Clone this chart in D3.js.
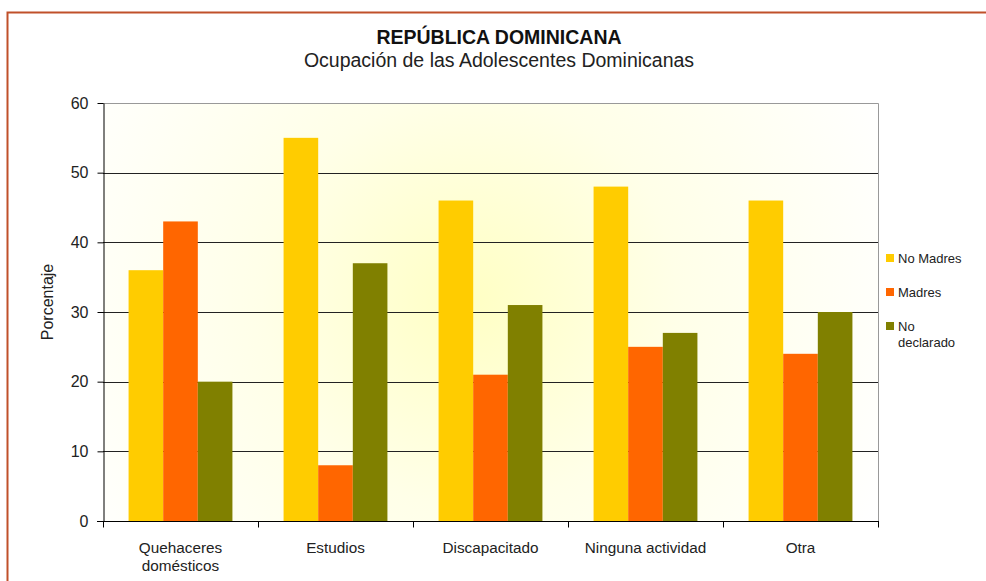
<!DOCTYPE html>
<html>
<head>
<meta charset="utf-8">
<script src="https://cdn.jsdelivr.net/npm/d3@7"></script>
<style>
  html, body { margin: 0; padding: 0; background: #fff; }
  svg { display: block; font-family: "Liberation Sans", Arial, sans-serif; }
</style>
</head>
<body>
<svg id="chart" width="986" height="581"></svg>
<script>
// Ocupación de las adolescentes, por condición de maternidad (%)
const categories = [["Quehaceres", "domésticos"], ["Estudios"], ["Discapacitado"], ["Ninguna actividad"], ["Otra"]];
const seriesNames = [["No Madres"], ["Madres"], ["No", "declarado"]];
const noMadres   = [36, 55, 46, 48, 46];
const madres     = [43, 8, 21, 25, 24];
const noDeclarado = [20, 37, 31, 27, 30];
const yTicks = [0, 10, 20, 30, 40, 50, 60];
const colors = ["#FFCC00", "#FF6600", "#808000"];

const series = [noMadres, madres, noDeclarado];
const svg = d3.select("#chart");

// outer frame
svg.append("path")
  .attr("d", "M7.5,581 L7.5,12.5 L986,12.5")
  .attr("fill", "none").attr("stroke", "#C0502A").attr("stroke-width", 2);

const plot = { left: 103, right: 878, top: 103, bottom: 521 };

const x = d3.scaleBand().domain(d3.range(categories.length))
  .range([plot.left, plot.right]).padding(0);
const xInner = d3.scaleBand().domain(d3.range(series.length))
  .range([x.bandwidth() * 0.165, x.bandwidth() * 0.835]).padding(0);
const y = d3.scaleLinear().domain([0, 60]).range([plot.bottom, plot.top]);

// plot background glow
const defs = svg.append("defs");
const grad = defs.append("radialGradient").attr("id", "glow")
  .attr("gradientUnits", "userSpaceOnUse")
  .attr("cx", 470).attr("cy", 300).attr("r", 460);
grad.append("stop").attr("offset", "0%").attr("stop-color", "#FFFFC4");
grad.append("stop").attr("offset", "45%").attr("stop-color", "#FFFFE8");
grad.append("stop").attr("offset", "100%").attr("stop-color", "#FFFFFF");

svg.append("rect")
  .attr("x", plot.left).attr("y", plot.top)
  .attr("width", plot.right - plot.left).attr("height", plot.bottom - plot.top)
  .attr("fill", "url(#glow)");

// gridlines
svg.append("g").selectAll("line")
  .data(yTicks.filter(t => t > 0 && t < 60))
  .join("line")
  .attr("x1", plot.left).attr("x2", plot.right)
  .attr("y1", d => Math.round(y(d)) + 0.5).attr("y2", d => Math.round(y(d)) + 0.5)
  .attr("stroke", "#222").attr("stroke-width", 1);

// plot border (top and right)
svg.append("path")
  .attr("d", `M${plot.left},${plot.top + 0.5} L${plot.right + 0.5},${plot.top + 0.5} L${plot.right + 0.5},${plot.bottom}`)
  .attr("fill", "none").attr("stroke", "#999").attr("stroke-width", 1);

// bars
const groups = svg.append("g").selectAll("g")
  .data(categories.map((c, i) => i))
  .join("g")
  .attr("transform", i => `translate(${x(i)},0)`);

groups.selectAll("rect")
  .data(i => series.map((s, k) => ({ k, v: s[i] })))
  .join("rect")
  .attr("x", d => xInner(d.k))
  .attr("width", xInner.bandwidth())
  .attr("y", d => y(d.v))
  .attr("height", d => y(0) - y(d.v))
  .attr("fill", d => colors[d.k]);

// y axis
const yAxis = svg.append("g")
  .attr("transform", `translate(${plot.left + 0.5},0)`)
  .call(d3.axisLeft(y).tickValues(yTicks).tickSize(6).tickPadding(9).tickSizeOuter(0));
yAxis.select(".domain").attr("stroke", "#000");
yAxis.selectAll(".tick line").attr("stroke", "#000");
yAxis.selectAll(".tick text").attr("font-size", 16).attr("fill", "#222")
  .attr("font-family", "'Liberation Sans', Arial, sans-serif");

// x axis
const xAxis = svg.append("g")
  .attr("transform", `translate(0,${plot.bottom + 0.5})`);
xAxis.append("line")
  .attr("x1", plot.left - 6).attr("x2", plot.right + 1)
  .attr("stroke", "#000");
xAxis.selectAll("line.tk")
  .data(d3.range(categories.length + 1))
  .join("line").attr("class", "tk")
  .attr("x1", i => Math.round(plot.left + i * x.step()) + 0.5)
  .attr("x2", i => Math.round(plot.left + i * x.step()) + 0.5)
  .attr("y1", 0).attr("y2", 6)
  .attr("stroke", "#000");

const xLabels = xAxis.selectAll("text.lbl")
  .data(categories)
  .join("text").attr("class", "lbl")
  .attr("x", (d, i) => x(i) + x.bandwidth() / 2)
  .attr("text-anchor", "middle")
  .attr("font-size", 15.3).attr("fill", "#222");
xLabels.selectAll("tspan")
  .data(d => d)
  .join("tspan")
  .attr("x", function () { return d3.select(this.parentNode).attr("x"); })
  .attr("y", (d, j) => 31 + j * 18)
  .text(d => d);

// y title
svg.append("text")
  .attr("transform", "translate(53,302) rotate(-90)")
  .attr("text-anchor", "middle")
  .attr("font-size", 16).attr("fill", "#222")
  .text("Porcentaje");

// titles
svg.append("text")
  .attr("x", 499).attr("y", 44)
  .attr("text-anchor", "middle")
  .attr("font-size", 19.5).attr("font-weight", "bold").attr("fill", "#111")
  .text("REPÚBLICA DOMINICANA");
svg.append("text")
  .attr("x", 499).attr("y", 67)
  .attr("text-anchor", "middle")
  .attr("font-size", 19.5).attr("fill", "#222")
  .text("Ocupación de las Adolescentes Dominicanas");

// legend
const legend = svg.append("g").selectAll("g")
  .data(seriesNames)
  .join("g")
  .attr("transform", (d, i) => `translate(886,${258 + i * 34})`);
legend.append("rect")
  .attr("x", 0).attr("y", -4).attr("width", 8).attr("height", 8)
  .attr("fill", (d, i) => colors[i]);
legend.append("text")
  .attr("font-size", 13).attr("fill", "#222")
  .selectAll("tspan")
  .data(d => d)
  .join("tspan")
  .attr("x", 12)
  .attr("y", (d, j) => 5 + j * 16)
  .text(d => d);
</script>
</body>
</html>
